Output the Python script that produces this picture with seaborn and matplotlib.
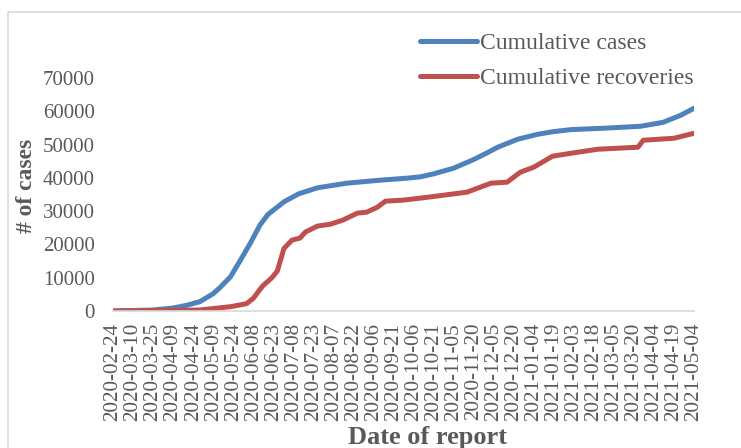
import matplotlib
matplotlib.use("Agg")
import matplotlib.pyplot as plt
import matplotlib.dates as mdates
from matplotlib.patches import Rectangle
import seaborn as sns
import pandas as pd

# data
case_dates = ['2020-02-24', '2020-03-25', '2020-04-09', '2020-04-19', '2020-04-29',
              '2020-05-09', '2020-05-14', '2020-05-22', '2020-05-29', '2020-06-06',
              '2020-06-13', '2020-06-19', '2020-07-01', '2020-07-12', '2020-07-26',
              '2020-08-17', '2020-09-11', '2020-10-01', '2020-10-11', '2020-10-21',
              '2020-11-05', '2020-11-20', '2020-11-30', '2020-12-08', '2020-12-23',
              '2021-01-07', '2021-01-19', '2021-02-01', '2021-02-25', '2021-03-25',
              '2021-04-11', '2021-04-24', '2021-05-04']
cases = [0, 300, 900, 1700, 2800,
         5200, 7000, 10300, 15000, 20500,
         25800, 29000, 32800, 35200, 37000,
         38400, 39300, 39900, 40300, 41200,
         42900, 45500, 47500, 49200, 51600,
         53100, 53900, 54500, 54900, 55500,
         56700, 58800, 60900]

rec_dates = ['2020-02-24', '2020-04-29', '2020-05-22', '2020-06-03', '2020-06-08',
             '2020-06-15', '2020-06-22', '2020-06-26', '2020-07-01', '2020-07-07',
             '2020-07-13', '2020-07-17', '2020-07-26', '2020-08-05', '2020-08-14',
             '2020-08-25', '2020-09-01', '2020-09-09', '2020-09-15', '2020-09-28',
             '2020-10-11', '2020-10-19', '2020-11-15', '2020-12-03', '2020-12-15',
             '2020-12-25', '2021-01-04', '2021-01-18', '2021-02-01', '2021-02-21',
             '2021-03-23', '2021-03-27', '2021-04-19', '2021-05-04']
recoveries = [0, 300, 1300, 2200, 3800,
              7500, 10000, 12000, 18800, 21300,
              21900, 23700, 25500, 26100, 27300,
              29400, 29700, 31200, 33000, 33300,
              33900, 34300, 35700, 38400, 38700,
              41700, 43200, 46500, 47400, 48600,
              49200, 51300, 51900, 53400]

df_cases = pd.DataFrame({'date': pd.to_datetime(case_dates), 'value': cases})
df_rec = pd.DataFrame({'date': pd.to_datetime(rec_dates), 'value': recoveries})

sns.set_style("white")
plt.rcParams['font.family'] = ['Liberation Serif', 'DejaVu Serif']

gray = '#595959'
fig = plt.figure(figsize=(7.41, 4.48), dpi=100)
ax = fig.add_axes([113 / 741, 1 - 311 / 448, (694 - 113) / 741, (311 - 78) / 448])

sns.lineplot(data=df_cases, x='date', y='value', ax=ax, color='#4F81BD', linewidth=3.6,
             label='Cumulative cases', solid_capstyle='round', solid_joinstyle='round')
sns.lineplot(data=df_rec, x='date', y='value', ax=ax, color='#C0504D', linewidth=3.6,
             label='Cumulative recoveries', solid_capstyle='round', solid_joinstyle='round')

ticks = pd.date_range('2020-02-24', '2021-05-04', freq='15D')
ax.set_xticks(ticks)
ax.xaxis.set_major_formatter(mdates.DateFormatter('%Y-%m-%d'))
ax.set_xlim(ticks[0], ticks[-1])
ax.set_ylim(0, 70000)
ax.set_yticks(range(0, 70001, 10000))

ax.tick_params(axis='x', labelrotation=90, labelsize=15.3, colors=gray, length=0, pad=8.5)
ax.tick_params(axis='y', labelsize=15, colors=gray, length=0, pad=13)
for s in ['top', 'right', 'left']:
    ax.spines[s].set_visible(False)
ax.spines['bottom'].set_color('#D9D9D9')
ax.spines['bottom'].set_linewidth(1.2)
ax.spines['bottom'].set_clip_on(False)

ax.set_xlabel(None)
ax.set_ylabel(None)
fig.text(427 / 741, 1 - 437 / 448, 'Date of report', ha='center', va='center',
         fontsize=19, fontweight='bold', color=gray)
fig.text(27 / 741, 1 - 186 / 448, '# of cases', ha='center', va='center', rotation=90,
         fontsize=17, fontweight='bold', color=gray)

leg = ax.legend(loc='upper left', bbox_to_anchor=(420 / 741, 1 - 32.5 / 448),
                bbox_transform=fig.transFigure, frameon=False, fontsize=17,
                handlelength=2.4, handletextpad=0.15, labelspacing=0.58, borderpad=0,
                borderaxespad=0)
for t in leg.get_texts():
    t.set_color(gray)

fig.patches.append(Rectangle((8 / 741, -0.1), 1.0, 1 - 12 / 448 + 0.1, transform=fig.transFigure,
                             fill=False, edgecolor='#D9D9D9', linewidth=1.2))

plt.savefig('out.png', dpi=100)
